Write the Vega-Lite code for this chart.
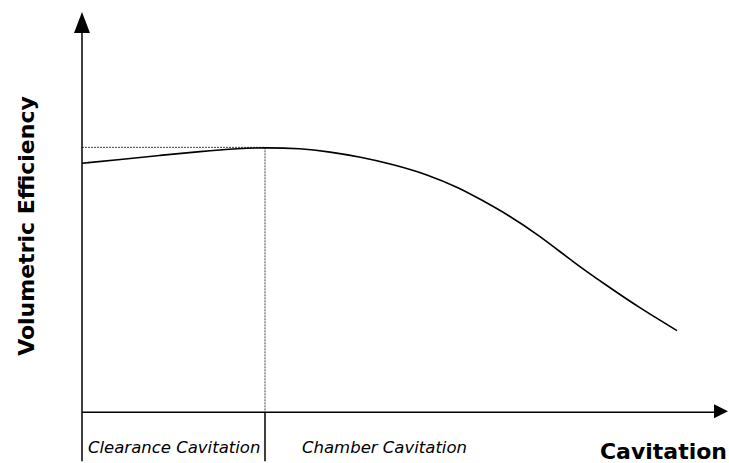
{
  "$schema": "https://vega.github.io/schema/vega-lite/v6.json",
  "width": 729,
  "height": 463,
  "autosize": {"type": "fit", "contains": "padding"},
  "padding": 0,
  "background": "white",
  "config": {"view": {"stroke": null}},
  "datasets": {
    "curve": [
      {"x": 0, "y": 83.33},
      {"x": 6.33, "y": 84.6},
      {"x": 13, "y": 86},
      {"x": 19.67, "y": 87.3},
      {"x": 26.33, "y": 88.3},
      {"x": 30.5, "y": 88.6},
      {"x": 36.33, "y": 88.33},
      {"x": 41.33, "y": 87.17},
      {"x": 46.33, "y": 85.5},
      {"x": 51.83, "y": 83},
      {"x": 57.5, "y": 79.67},
      {"x": 63, "y": 75},
      {"x": 66.33, "y": 71.33},
      {"x": 70.83, "y": 66.33},
      {"x": 76.33, "y": 59},
      {"x": 81.83, "y": 50.33},
      {"x": 87.5, "y": 42.33},
      {"x": 93, "y": 34.83},
      {"x": 99.17, "y": 27.33}
    ],
    "solid": [
      {"x": 0, "x2": 0, "y": -16.4, "y2": 128},
      {"x": 0, "x2": 105.5, "y": 0, "y2": 0},
      {"x": 30.5, "x2": 30.5, "y": 0, "y2": -16.4}
    ],
    "dotted": [
      {"x": 0, "x2": 30.5, "y": 88.67, "y2": 88.67},
      {"x": 30.5, "x2": 30.5, "y": 88.67, "y2": 0}
    ],
    "arrowUp": [{"x": 0, "y": 130.5}],
    "arrowRight": [{"x": 106.5, "y": 0.3}],
    "regions": [
      {"x": 1, "y": -13.67, "label": "Clearance Cavitation"},
      {"x": 36.67, "y": -13.67, "label": "Chamber Cavitation"}
    ],
    "xtitle": [{"x": 107.5, "y": -15.6, "label": "Cavitation"}],
    "ytitle": [{"x": -8, "y": 62.33, "label": "Volumetric Efficiency"}]
  },
  "encoding": {
    "x": {"field": "x", "type": "quantitative", "scale": {"domain": [-13.667, 107.833], "nice": false, "zero": false}, "axis": null},
    "y": {"field": "y", "type": "quantitative", "scale": {"domain": [-16.333, 138], "nice": false, "zero": false}, "axis": null}
  },
  "layer": [
    {
      "data": {"name": "dotted"},
      "mark": {"type": "rule", "color": "#444444", "strokeWidth": 1, "strokeDash": [2, 1]},
      "encoding": {"x2": {"field": "x2"}, "y2": {"field": "y2"}}
    },
    {
      "data": {"name": "solid"},
      "mark": {"type": "rule", "color": "black", "strokeWidth": 1.5},
      "encoding": {"x2": {"field": "x2"}, "y2": {"field": "y2"}}
    },
    {
      "data": {"name": "curve"},
      "mark": {"type": "line", "color": "black", "strokeWidth": 1.6, "interpolate": "basis"},
      "encoding": {}
    },
    {
      "data": {"name": "arrowUp"},
      "mark": {"type": "point", "shape": "M0,-1L0.76,1L-0.76,1Z", "size": 441, "filled": true, "color": "black", "opacity": 1},
      "encoding": {}
    },
    {
      "data": {"name": "arrowRight"},
      "mark": {"type": "point", "shape": "M1,0L-1,1L-1,-1Z", "size": 196, "filled": true, "color": "black", "opacity": 1},
      "encoding": {}
    },
    {
      "data": {"name": "regions"},
      "mark": {"type": "text", "align": "left", "baseline": "alphabetic", "font": "DejaVu Sans", "fontStyle": "italic", "fontSize": 16.5, "color": "black"},
      "encoding": {"text": {"field": "label"}}
    },
    {
      "data": {"name": "xtitle"},
      "mark": {"type": "text", "align": "right", "baseline": "alphabetic", "font": "DejaVu Sans", "fontWeight": "bold", "fontSize": 22, "color": "black"},
      "encoding": {"text": {"field": "label"}}
    },
    {
      "data": {"name": "ytitle"},
      "mark": {"type": "text", "align": "center", "baseline": "alphabetic", "angle": 270, "font": "DejaVu Sans", "fontWeight": "bold", "fontSize": 22, "color": "black"},
      "encoding": {"text": {"field": "label"}}
    }
  ]
}
